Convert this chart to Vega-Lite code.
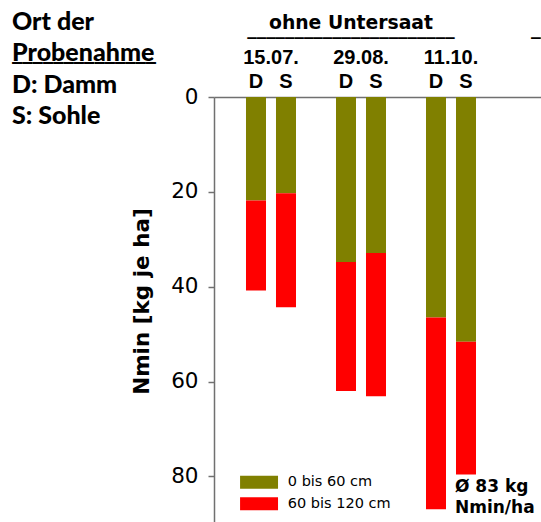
{
  "$schema": "https://vega.github.io/schema/vega-lite/v6.json",
  "width": 327,
  "height": 425,
  "autosize": {"type": "none"},
  "padding": {"left": 214, "top": 97, "right": 0, "bottom": 0},
  "background": "white",
  "title": {
    "text": ["Ort der", "Probenahme", "D: Damm", "S: Sohle"],
    "subtitle": "______________",
    "anchor": "start",
    "frame": "group",
    "orient": "top",
    "font": "Lato",
    "fontWeight": 900,
    "fontSize": 25,
    "lineHeight": 31.5,
    "color": "black",
    "subtitleFont": "DejaVu Sans",
    "subtitleFontWeight": "bold",
    "subtitleFontSize": 20.6,
    "subtitleColor": "black",
    "subtitlePadding": -86,
    "dx": -202,
    "dy": 115,
    "offset": 0
  },
  "config": {
    "view": {"stroke": null},
    "axis": {"grid": false}
  },
  "data": {
    "values": [
      {"Datum": "15.07.", "Ort": "D", "Tiefe": "0 bis 60 cm", "Wert": 21.8},
      {"Datum": "15.07.", "Ort": "D", "Tiefe": "60 bis 120 cm", "Wert": 19.0},
      {"Datum": "15.07.", "Ort": "S", "Tiefe": "0 bis 60 cm", "Wert": 20.3},
      {"Datum": "15.07.", "Ort": "S", "Tiefe": "60 bis 120 cm", "Wert": 24.0},
      {"Datum": "29.08.", "Ort": "D", "Tiefe": "0 bis 60 cm", "Wert": 34.8},
      {"Datum": "29.08.", "Ort": "D", "Tiefe": "60 bis 120 cm", "Wert": 27.2},
      {"Datum": "29.08.", "Ort": "S", "Tiefe": "0 bis 60 cm", "Wert": 32.9},
      {"Datum": "29.08.", "Ort": "S", "Tiefe": "60 bis 120 cm", "Wert": 30.2},
      {"Datum": "11.10.", "Ort": "D", "Tiefe": "0 bis 60 cm", "Wert": 46.5},
      {"Datum": "11.10.", "Ort": "D", "Tiefe": "60 bis 120 cm", "Wert": 40.4},
      {"Datum": "11.10.", "Ort": "S", "Tiefe": "0 bis 60 cm", "Wert": 51.6},
      {"Datum": "11.10.", "Ort": "S", "Tiefe": "60 bis 120 cm", "Wert": 28.0}
    ]
  },
  "layer": [
    {
      "mark": {"type": "bar"},
      "encoding": {
        "x": {
          "field": "Datum",
          "type": "nominal",
          "sort": ["15.07.", "29.08.", "11.10."],
          "scale": {"domain": ["15.07.", "29.08.", "11.10."], "paddingInner": 0.33333, "paddingOuter": 0.48333, "align": 0.3103},
          "axis": {
            "orient": "top",
            "title": null,
            "ticks": false,
            "labelAngle": 0,
            "labelFont": "Liberation Sans",
            "labelFontWeight": "bold",
            "labelFontSize": 20,
            "labelColor": "black",
            "labelPadding": 30,
            "domainColor": "#707070",
            "domainWidth": 1.5
          }
        },
        "xOffset": {
          "field": "Ort",
          "type": "nominal",
          "scale": {"domain": ["D", "S"], "paddingInner": 0.33333, "paddingOuter": 0.16667}
        },
        "y": {
          "field": "Wert",
          "type": "quantitative",
          "stack": "zero",
          "scale": {"domain": [0, 89.6], "reverse": true, "nice": false, "zero": true},
          "axis": {
            "title": "Nmin [kg je ha]",
            "titleFont": "DejaVu Sans",
            "titleFontWeight": "bold",
            "titleFontSize": 21.5,
            "titleColor": "black",
            "titlePadding": 17,
            "titleY": 204,
            "values": [0, 20, 40, 60, 80],
            "labelFont": "DejaVu Sans",
            "labelFontSize": 21.5,
            "labelColor": "black",
            "labelPadding": 10,
            "tickSize": 6,
            "tickColor": "#707070",
            "tickWidth": 1.5,
            "domainColor": "#707070",
            "domainWidth": 1.5
          }
        },
        "color": {
          "field": "Tiefe",
          "type": "nominal",
          "scale": {"domain": ["0 bis 60 cm", "60 bis 120 cm"], "range": ["#808000", "#FF0000"]},
          "legend": {
            "title": null,
            "orient": "none",
            "legendX": 37.8,
            "legendY": 378,
            "padding": 0,
            "symbolType": "M-2.92,-1H2.92V1H-2.92Z",
            "symbolSize": 169,
            "symbolStrokeWidth": 0,
            "labelFont": "DejaVu Sans",
            "labelFontSize": 14.5,
            "labelColor": "black",
            "labelOffset": 21.5,
            "rowPadding": 6.5
          }
        },
        "order": {"field": "Tiefe", "sort": "ascending"}
      }
    },
    {
      "transform": [{"filter": "datum.Tiefe === '0 bis 60 cm'"}],
      "mark": {"type": "text", "font": "Liberation Sans", "fontWeight": "bold", "fontSize": 20, "baseline": "alphabetic", "color": "black"},
      "encoding": {
        "x": {"field": "Datum", "type": "nominal"},
        "xOffset": {"field": "Ort", "type": "nominal"},
        "y": {"datum": -1.85},
        "text": {"field": "Ort"}
      }
    },
    {
      "data": {"values": [{}]},
      "mark": {"type": "text", "text": "ohne Untersaat", "font": "DejaVu Sans", "fontWeight": "bold", "fontSize": 18.8, "baseline": "alphabetic", "dx": -10, "color": "black"},
      "encoding": {
        "x": {"datum": "29.08."},
        "y": {"datum": -14.3}
      }
    },
    {
      "data": {"values": [{}]},
      "mark": {"type": "text", "text": "______________________", "font": "DejaVu Sans", "fontWeight": "bold", "fontSize": 18.85, "baseline": "alphabetic", "dx": -10, "color": "black"},
      "encoding": {
        "x": {"datum": "29.08."},
        "y": {"datum": -13.3}
      }
    },
    {
      "data": {"values": [{}]},
      "mark": {"type": "text", "text": "___", "font": "DejaVu Sans", "fontWeight": "bold", "fontSize": 18.85, "baseline": "alphabetic", "align": "left", "dx": 80, "color": "black"},
      "encoding": {
        "x": {"datum": "11.10."},
        "y": {"datum": -13.3}
      }
    },
    {
      "data": {"values": [{}]},
      "mark": {"type": "text", "text": ["Ø 83 kg", "Nmin/ha"], "font": "DejaVu Sans", "fontWeight": "bold", "fontSize": 17, "lineHeight": 21.6, "baseline": "alphabetic", "align": "left", "dx": 4, "color": "black"},
      "encoding": {
        "x": {"datum": "11.10."},
        "y": {"datum": 83.2}
      }
    }
  ]
}
